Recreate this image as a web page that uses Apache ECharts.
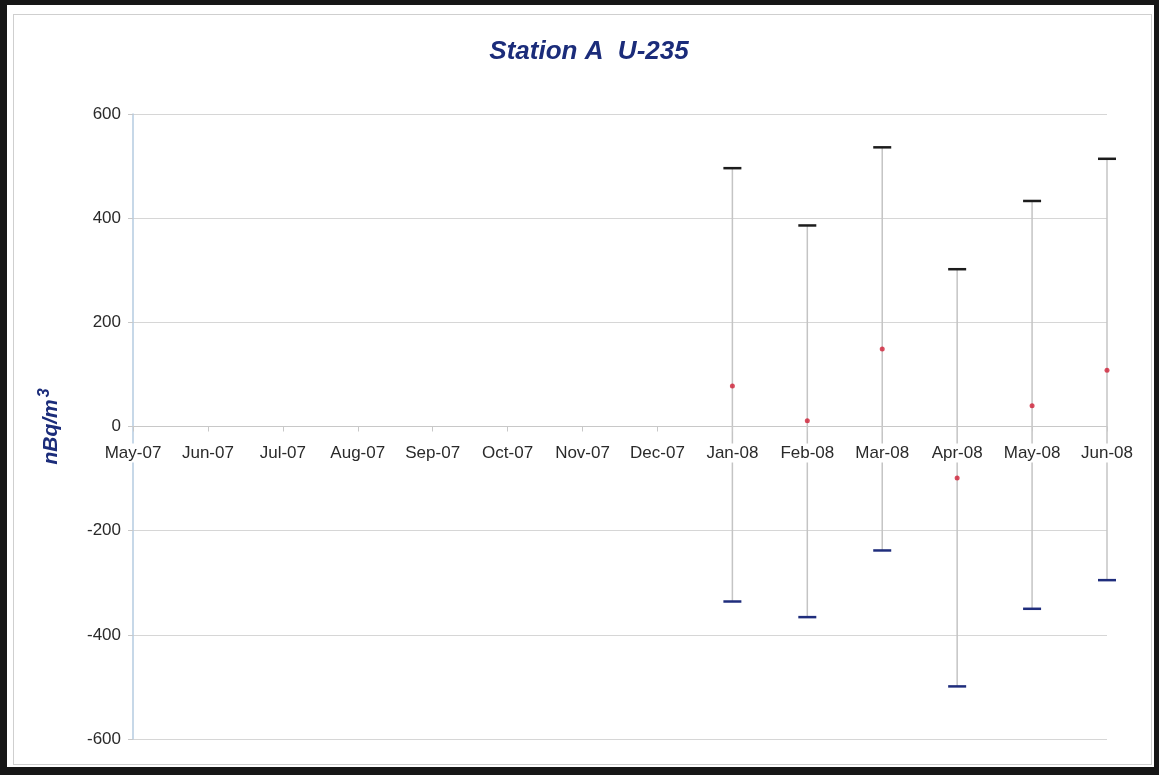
<!DOCTYPE html>
<html>
<head>
<meta charset="utf-8">
<title>Station A U-235</title>
<script src="https://cdn.jsdelivr.net/npm/echarts@6/dist/echarts.min.js"></script>
<style>
  html, body { margin: 0; padding: 0; background: #161616; }
  #frame { position: absolute; left: 7px; top: 5px; width: 1147px; height: 762px; background: #fff; }
  #inner { position: absolute; left: 13px; top: 14px; width: 1137px; height: 749px; border: 1px solid #cfcfcf; }
  #myChart { position: absolute; left: 0; top: 0; width: 1159px; height: 775px; }
</style>
</head>
<body>
<div id="frame"></div>
<div id="inner"></div>
<div id="myChart"></div>
<script>
// months on the x axis
var months = ["May-07", "Jun-07", "Jul-07", "Aug-07", "Sep-07", "Oct-07", "Nov-07",
  "Dec-07", "Jan-08", "Feb-08", "Mar-08", "Apr-08", "May-08", "Jun-08"];
// measured value (red dot), null = no sample
var centre = [null, null, null, null, null, null, null, null, 78, 11, 149, -99, 40, 108];
// upper / lower ends of the uncertainty bar
var upper = [null, null, null, null, null, null, null, null, 496, 386, 536, 302, 433, 514];
var lower = [null, null, null, null, null, null, null, null, -336, -366, -238, -499, -350, -295];
var yTicks = [-600, -400, -200, 0, 200, 400, 600];

var barData = [];
var dotData = [];
for (var i = 0; i < months.length; i++) {
  if (upper[i] != null) barData.push([i, lower[i], upper[i]]);
  if (centre[i] != null) dotData.push([i, centre[i]]);
}

function renderBar(params, api) {
  var x = api.value(0);
  var lo = api.coord([x, api.value(1)]);
  var hi = api.coord([x, api.value(2)]);
  var w = 9;
  return {
    type: "group",
    children: [
      { type: "line", shape: { x1: hi[0], y1: hi[1], x2: lo[0], y2: lo[1] },
        style: { stroke: "#c4c4c4", lineWidth: 1.5 } },
      { type: "line", shape: { x1: hi[0] - w, y1: hi[1], x2: hi[0] + w, y2: hi[1] },
        style: { stroke: "#1c1c1c", lineWidth: 2.5 } },
      { type: "line", shape: { x1: lo[0] - w, y1: lo[1], x2: lo[0] + w, y2: lo[1] },
        style: { stroke: "#1f2d7c", lineWidth: 2.5 } }
    ]
  };
}

var gridTop = 114, gridBottom = 36, plotH = 775 - gridTop - gridBottom;
// move the category axis up to the zero line
var zeroOffset = -plotH * (0 - yTicks[0]) / (yTicks[yTicks.length - 1] - yTicks[0]);

var myChart = echarts.init(document.getElementById("myChart"));
var option = {
  animation: false,
  title: {
    text: "Station A  U-235",
    left: 584,
    textAlign: "center",
    top: 34,
    textStyle: { fontFamily: "Liberation Sans, Arial", fontSize: 26, fontWeight: "bold",
      fontStyle: "italic", color: "#1b2c7a" }
  },
  grid: { left: 133, top: gridTop, right: 52, bottom: gridBottom },
  xAxis: {
    type: "category",
    data: months,
    boundaryGap: false,
    position: "bottom",
    offset: zeroOffset,
    z: 10,
    axisLine: { onZero: false, lineStyle: { color: "#c8c8c8", width: 1 } },
    axisTick: { show: true, length: 5, lineStyle: { color: "#c8c8c8" } },
    axisLabel: { interval: 0, margin: 17, fontFamily: "Liberation Sans, Arial",
      fontSize: 17, color: "#2a2a2a", backgroundColor: "#fff", padding: [1, 2] },
    splitLine: { show: false }
  },
  yAxis: {
    type: "value",
    min: yTicks[0],
    max: yTicks[yTicks.length - 1],
    interval: 200,
    name: "{b|nBq/m}{s|3}",
    nameLocation: "middle",
    nameGap: 68,
    nameTextStyle: {
      rich: {
        b: { fontFamily: "Liberation Sans, Arial", fontSize: 21, fontWeight: "bold",
          fontStyle: "italic", color: "#1b2c7a" },
        s: { fontFamily: "Liberation Sans, Arial", fontSize: 16, fontWeight: "bold",
          fontStyle: "italic", color: "#1b2c7a", verticalAlign: "top", padding: [0, 0, 12, 2] }
      }
    },
    axisLine: { show: true, lineStyle: { color: "#b5cbe0", width: 1.5 } },
    axisTick: { show: true, length: 5, lineStyle: { color: "#c8c8c8" } },
    axisLabel: { margin: 12, fontFamily: "Liberation Sans, Arial", fontSize: 17, color: "#2a2a2a" },
    splitLine: { show: true, lineStyle: { color: "#d6d6d6", width: 1 } }
  },
  series: [
    {
      name: "range",
      type: "custom",
      renderItem: renderBar,
      encode: { x: 0, y: [1, 2] },
      data: barData,
      z: 3
    },
    {
      name: "value",
      type: "scatter",
      symbol: "circle",
      symbolSize: 5,
      itemStyle: { color: "#d01f36" },
      data: dotData,
      z: 4
    }
  ]
};
myChart.setOption(option);
</script>
</body>
</html>
